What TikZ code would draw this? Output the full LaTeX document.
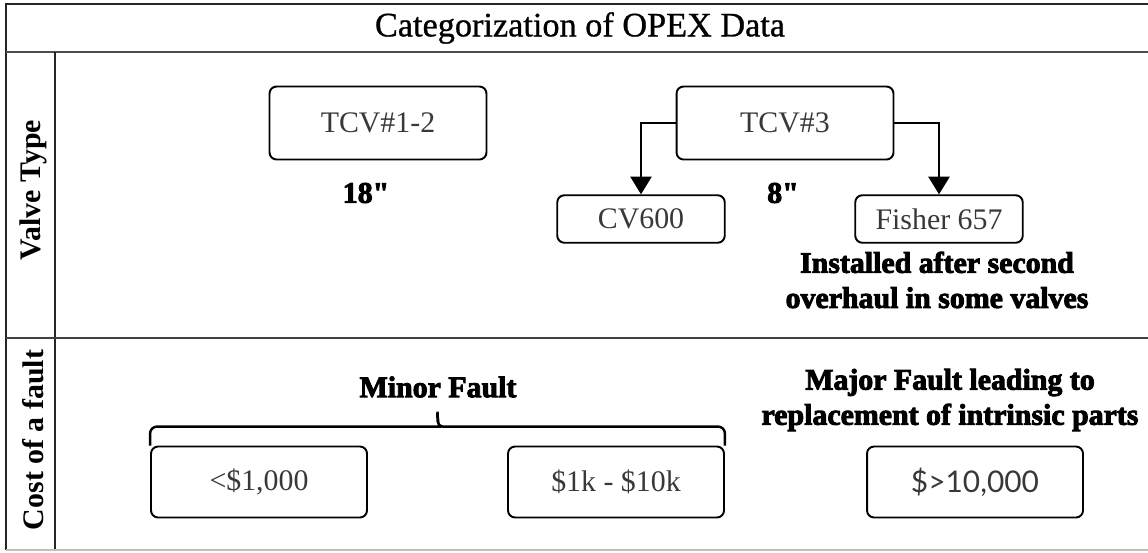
\documentclass[tikz,border=0pt]{standalone}
\usepackage{fontspec}
\setmainfont{Liberation Serif}
\newfontfamily\sansfont{Lato}
\newfontfamily\titlefont{Liberation Serif}[FakeBold=0.8]
\newfontfamily\heavyfont{Liberation Serif}[BoldFeatures={FakeBold=3}]
\usetikzlibrary{arrows.meta,calc}

\tikzset{
	frame/.style={line width=1.2pt, draw=black!85},
	valve/.style={draw=black, line width=1.1pt, rounded corners=4pt, text=black!78,
		font=\fontsize{17}{20}\selectfont, inner sep=0pt},
	bigvalve/.style={valve, minimum width=4.34cm, minimum height=1.46cm},
	smallvalve/.style={valve, minimum width=3.35cm, minimum height=0.95cm},
	costbox/.style={valve, minimum width=4.32cm, minimum height=1.42cm},
	note/.style={font=\heavyfont\bfseries\fontsize{17}{20}\selectfont, align=center, inner sep=0pt},
	rowhead/.style={rotate=90, font=\bfseries\fontsize{17}{20}\selectfont, inner sep=0pt},
	branch/.style={line width=1.1pt, -{Triangle[length=10pt,width=12pt]}},
	bracepath/.style={line width=1.4pt},
}

\begin{document}
\begin{tikzpicture}[x=0.02cm, y=-0.02cm]
	\useasboundingbox (0,0) rectangle (1148,552);

	% table lines
	\draw[frame] (1148,4) -- (6,4) -- (6,550);
	\draw[frame, line width=1.7pt, draw=black!70] (6,52) -- (1148,52);
	\draw[frame] (55,52) -- (55,550);
	\draw[frame, draw=black!75] (6,338) -- (1148,338);
	\draw[draw=black!25, line width=0.6pt] (6,550) -- (1148,550);

	% headers
	\node[font=\titlefont\fontsize{19.5}{22}\selectfont] (title) at (580,28) {Categorization of OPEX Data};
	\node[rowhead] (valvehead) at (33,190) {Valve Type};
	\node[rowhead] (costhead) at (33,440) {Cost of a fault};

	% valve types
	\node[bigvalve] (tcvA) at (378,123) {TCV\#1-2};
	\node[bigvalve] (tcvB) at (785,123) {TCV\#3};
	\node[smallvalve] (cv) at (641,219) {CV600};
	\node[smallvalve] (fisher) at (939,219) {Fisher 657};
	\node[note] (sizeA) at (366,193) {18"};
	\node[note] (sizeB) at (783,193) {8"};
	\node[note] (retrofit) at (937,280) {Installed after second\\overhaul in some valves};

	\draw[branch] (tcvB.west) -| (cv.north);
	\draw[branch] (tcvB.east) -| (fisher.north);

	% fault costs
	\node[note] (minor) at (438,387) {Minor Fault};
	\node[note] (major) at (950,400) {Major Fault leading to\\replacement of intrinsic parts};
	\node[costbox] (low) at (259,482) {<\$1,000};
	\node[costbox] (mid) at (616,482) {\$1k - \$10k};
	\node[costbox, font=\sansfont\fontsize{17}{20}\selectfont] (high) at (975,482) {\$>10,000};

	\coordinate (tip) at ($(low.north west)!.5!(mid.north east)+(0,-34)$);
	\draw[bracepath] (low.north west) [rounded corners=4pt] |- ($(tip)+(-5,15)$)
		[sharp corners] to[out=0,in=-90] (tip) to[out=-90,in=180] ($(tip)+(5,15)$)
		[rounded corners=4pt] -| (mid.north east);
\end{tikzpicture}
\end{document}
